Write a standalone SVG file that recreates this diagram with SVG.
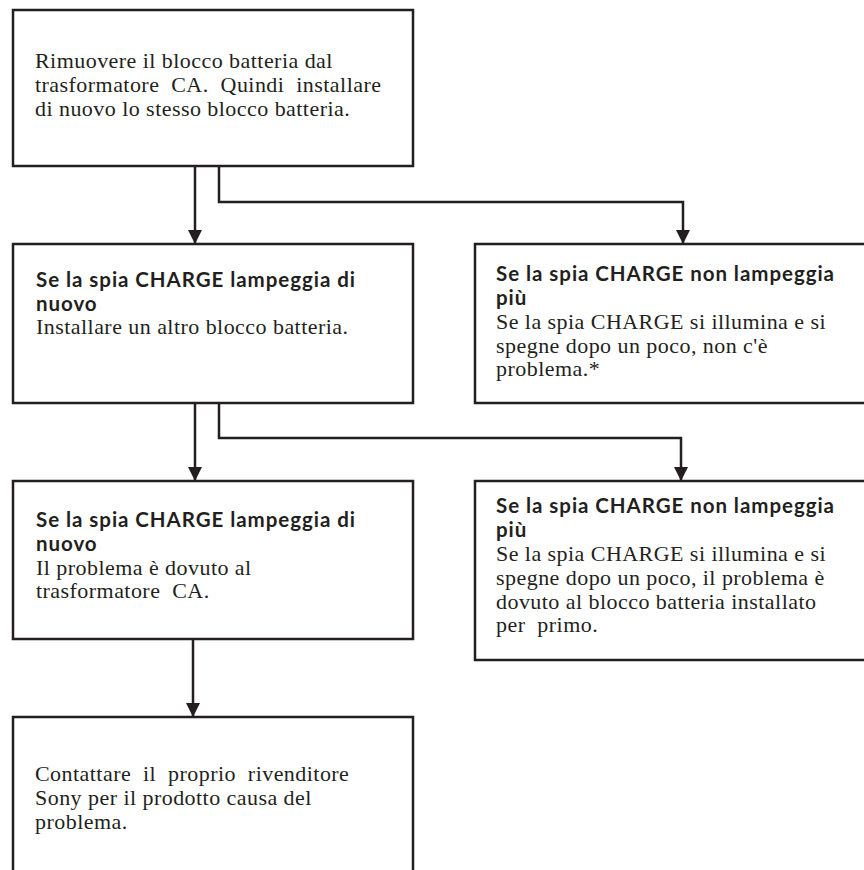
<svg xmlns="http://www.w3.org/2000/svg" width="864" height="870" viewBox="0 0 864 870">
  <style>
    .box { fill: #ffffff; stroke: #231f20; stroke-width: 2.5; }
    .link { fill: none; stroke: #231f20; stroke-width: 2.5; }
    text { fill: #231f20; white-space: pre; }
    .body { font-family: "Liberation Serif", "DejaVu Serif", serif; font-size: 22px; letter-spacing: 0.45px; }
    .head { font-family: Lato, "Open Sans", "Liberation Sans", sans-serif; font-weight: 700; font-size: 20.5px; letter-spacing: 0.95px; }
  </style>
  <defs>
    <marker id="arrow" markerUnits="userSpaceOnUse" markerWidth="14" markerHeight="14" refX="14" refY="7" orient="auto">
      <path d="M0,0 L14,7 L0,14 Z" fill="#231f20"/>
    </marker>
  </defs>
  <rect width="864" height="870" fill="#ffffff"/>

  <!-- connectors -->
  <g id="connectors">
    <path class="link" d="M195,166 V244" marker-end="url(#arrow)"/>
    <path class="link" d="M219,166 V202 H683 V244" marker-end="url(#arrow)"/>
    <path class="link" d="M195,403 V481" marker-end="url(#arrow)"/>
    <path class="link" d="M219,403 V438 H681 V481" marker-end="url(#arrow)"/>
    <path class="link" d="M193,639 V717" marker-end="url(#arrow)"/>
  </g>

  <!-- step 1 -->
  <g id="step-remove">
    <rect class="box" x="13" y="10" width="400" height="156"/>
    <text class="body">
      <tspan x="35" y="68">Rimuovere il blocco batteria dal</tspan>
      <tspan x="35" y="92">trasformatore  CA.  Quindi  installare</tspan>
      <tspan x="35" y="116">di nuovo lo stesso blocco batteria.</tspan>
    </text>
  </g>

  <!-- still blinking after reinstall -->
  <g id="blink-again-1">
    <rect class="box" x="13" y="244" width="400" height="159"/>
    <text>
      <tspan class="head" x="36" y="287">Se la spia CHARGE lampeggia di</tspan>
      <tspan class="head" x="36" y="311">nuovo</tspan>
      <tspan class="body" x="36" y="334">Installare un altro blocco batteria.</tspan>
    </text>
  </g>

  <!-- stops blinking after reinstall -->
  <g id="no-blink-1">
    <rect class="box" x="475" y="244" width="400" height="159"/>
    <text>
      <tspan class="head" x="496" y="281">Se la spia CHARGE non lampeggia</tspan>
      <tspan class="head" x="496" y="305">più</tspan>
      <tspan class="body" x="496" y="329">Se la spia CHARGE si illumina e si</tspan>
      <tspan class="body" x="496" y="353">spegne dopo un poco, non c'è</tspan>
      <tspan class="body" x="496" y="376">problema.*</tspan>
    </text>
  </g>

  <!-- still blinking with another pack -->
  <g id="blink-again-2">
    <rect class="box" x="13" y="481" width="400" height="158"/>
    <text>
      <tspan class="head" x="36" y="527">Se la spia CHARGE lampeggia di</tspan>
      <tspan class="head" x="36" y="551">nuovo</tspan>
      <tspan class="body" x="36" y="575">Il problema è dovuto al</tspan>
      <tspan class="body" x="36" y="598">trasformatore  CA.</tspan>
    </text>
  </g>

  <!-- stops blinking with another pack -->
  <g id="no-blink-2">
    <rect class="box" x="475" y="481" width="400" height="179"/>
    <text>
      <tspan class="head" x="496" y="513">Se la spia CHARGE non lampeggia</tspan>
      <tspan class="head" x="496" y="537">più</tspan>
      <tspan class="body" x="496" y="561">Se la spia CHARGE si illumina e si</tspan>
      <tspan class="body" x="496" y="585">spegne dopo un poco, il problema è</tspan>
      <tspan class="body" x="496" y="609">dovuto al blocco batteria installato</tspan>
      <tspan class="body" x="496" y="632">per  primo.</tspan>
    </text>
  </g>

  <!-- final step -->
  <g id="contact-dealer">
    <rect class="box" x="13" y="717" width="400" height="170"/>
    <text class="body">
      <tspan x="35" y="781">Contattare  il  proprio  rivenditore</tspan>
      <tspan x="35" y="805">Sony per il prodotto causa del</tspan>
      <tspan x="35" y="829">problema.</tspan>
    </text>
  </g>
</svg>
